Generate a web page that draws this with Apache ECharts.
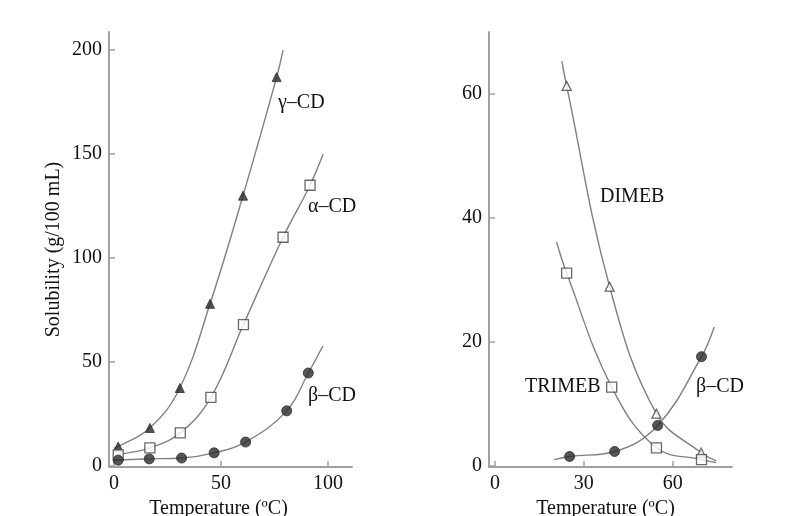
<!DOCTYPE html>
<html>
<head>
<meta charset="utf-8">
<title>Cyclodextrin solubility</title>
<script src="https://cdn.jsdelivr.net/npm/echarts@6/dist/echarts.min.js"></script>
<style>
	html, body { margin: 0; padding: 0; background: #ffffff; }
	#chart { width: 791px; height: 516px; }
</style>
</head>
<body>
<div id="chart"></div>
<script>
// left panel: natural cyclodextrins, [temperature, solubility]
const gammaPoints = [[2, 9.3], [16.8, 18.3], [30.8, 37.5], [44.9, 78], [60.3, 130], [76, 187]];
const gammaCurve = [[0, 8.5], [2, 9.3], [16.8, 18.3], [30.8, 37.5], [44.9, 78], [60.3, 130], [76, 187], [79, 200]];
const alphaPoints = [[2, 5.3], [16.8, 8.7], [31, 15.9], [45.3, 33], [60.5, 68], [79, 110], [91.6, 135]];
const alphaCurve = [[0, 4.5], [2, 5.3], [16.8, 8.7], [31, 15.9], [45.3, 33], [60.5, 68], [79, 110], [91.6, 135], [97.7, 150]];
const betaPoints = [[2, 2.8], [16.5, 3.4], [31.6, 3.8], [46.8, 6.3], [61.5, 11.5], [80.7, 26.5], [90.8, 44.7]];
const betaCurve = [[0, 2.5], [2, 2.8], [16.5, 3.4], [31.6, 3.8], [46.8, 6.3], [61.5, 11.5], [80.7, 26.5], [90.8, 44.7], [97.6, 57.7]];

// right panel: methylated derivatives vs beta-CD
const dimebPoints = [[24.2, 61.3], [38.7, 28.9], [54.5, 8.4], [69.6, 2.1]];
const dimebCurve = [[22.6, 65.3], [24.2, 61.3], [38.7, 28.9], [54.5, 8.4], [69.6, 2.1], [74.7, 0.8]];
const trimebPoints = [[24.2, 31.1], [39.4, 12.7], [54.5, 2.9], [69.7, 1.0]];
const trimebCurve = [[20.8, 36.1], [24.2, 31.1], [39.4, 12.7], [54.5, 2.9], [69.7, 1.0], [74.7, 0.5]];
const beta2Points = [[25.2, 1.5], [40.4, 2.3], [54.9, 6.5], [69.7, 17.6]];
const beta2Curve = [[20, 1.0], [25.2, 1.5], [40.4, 2.3], [54.9, 6.5], [69.7, 17.6], [74, 22.4]];

// tick labels
const leftXTicks = [0, 50, 100];
const leftYTicks = [0, 50, 100, 150, 200];
const rightXTicks = [0, 30, 60];
const rightYTicks = [0, 20, 40, 60];

const FONT = '"Liberation Serif", "DejaVu Serif", serif';
const axisGray = '#a0a0a0';
const curveGray = '#808080';
const markDark = '#2a2a2a';

function valueAxis(gridIndex, min, max, ticks, extra) {
	return Object.assign({
		type: 'value',
		gridIndex: gridIndex,
		min: min,
		max: max,
		// keep the axis lines on the grid edge, not at the other axis' zero
		axisLine: { show: true, onZero: false, lineStyle: { color: axisGray, width: 2 } },
		axisTick: { show: true, inside: true, length: 6, customValues: ticks, lineStyle: { color: axisGray, width: 1.5 } },
		axisLabel: { customValues: ticks, color: '#111', fontFamily: FONT, fontSize: 20, margin: 7 },
		splitLine: { show: false }
	}, extra || {});
}

function curve(data, xi) {
	return {
		type: 'line', xAxisIndex: xi, yAxisIndex: xi, data: data,
		smooth: 0.4, showSymbol: false, silent: true,
		lineStyle: { color: curveGray, width: 1.4 }
	};
}

function marks(data, xi, symbol, filled) {
	return {
		type: 'scatter', xAxisIndex: xi, yAxisIndex: xi, data: data,
		symbol: symbol, symbolSize: symbol === 'triangle' ? 9 : 10,
		itemStyle: filled
			? { color: markDark, borderColor: markDark, borderWidth: 1 }
			: { color: '#ffffff', borderColor: '#444', borderWidth: 1.3 },
		z: 3
	};
}

function label(text, x, y) {
	return {
		type: 'text', left: x, top: y - 11,
		style: { text: text, font: '20px ' + FONT, fill: '#111' }
	};
}

const chart = echarts.init(document.getElementById('chart'), null, { renderer: 'canvas' });

chart.setOption({
	backgroundColor: '#ffffff',
	animation: false,
	grid: [
		{ left: 109, top: 32, width: 243, height: 435, outerBoundsMode: 'none', containLabel: false },
		{ left: 489, top: 32, width: 243, height: 435, outerBoundsMode: 'none', containLabel: false }
	],
	xAxis: [
		valueAxis(0, -2.3, 111.2, leftXTicks, {
			name: 'Temperature (ºC)', nameLocation: 'middle', nameGap: 25,
			nameTextStyle: { color: '#111', fontFamily: FONT, fontSize: 20, padding: [0, 24, 0, 0] }
		}),
		valueAxis(1, -2, 80, rightXTicks, {
			name: 'Temperature (ºC)', nameLocation: 'middle', nameGap: 25,
			nameTextStyle: { color: '#111', fontFamily: FONT, fontSize: 20, padding: [0, 10, 0, 0] }
		})
	],
	yAxis: [
		valueAxis(0, -0.5, 208.7, leftYTicks, {
			name: 'Solubility (g/100 mL)', nameLocation: 'middle', nameGap: 45,
			nameTextStyle: { color: '#111', fontFamily: FONT, fontSize: 20 }
		}),
		valueAxis(1, -0.2, 70, rightYTicks)
	],
	series: [
		curve(gammaCurve, 0), marks(gammaPoints, 0, 'triangle', true),
		curve(alphaCurve, 0), marks(alphaPoints, 0, 'rect', false),
		curve(betaCurve, 0), marks(betaPoints, 0, 'circle', true),
		curve(dimebCurve, 1), marks(dimebPoints, 1, 'triangle', false),
		curve(trimebCurve, 1), marks(trimebPoints, 1, 'rect', false),
		curve(beta2Curve, 1), marks(beta2Points, 1, 'circle', true)
	],
	graphic: [
		label('γ–CD', 278, 104),
		label('α–CD', 308, 208),
		label('β–CD', 308, 397),
		label('DIMEB', 600, 198),
		label('TRIMEB', 525, 388),
		label('β–CD', 696, 388)
	]
});
</script>
</body>
</html>
